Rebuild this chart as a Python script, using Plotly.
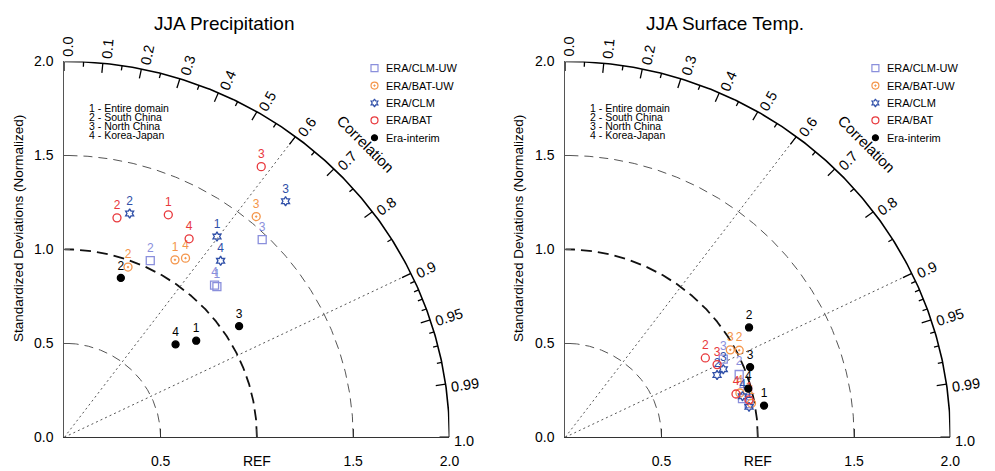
import numpy as np
import plotly.graph_objects as go

FONT = "Liberation Sans, Arial, Helvetica, sans-serif"
W, H = 995, 471

titles = ["JJA Precipitation", "JJA Surface Temp."]
series_names = ["ERA/CLM-UW", "ERA/BAT-UW", "ERA/CLM", "ERA/BAT", "Era-interim"]
region_ids = ["1", "2", "3", "4"]
region_labels = ["1 - Entire domain", "2 - South China", "3 - North China", "4 - Korea-Japan"]

# ---- JJA Precipitation: normalized std and correlation for regions 1..4
pr_clmuw_std = [1.127, 1.040, 1.470, 1.124]
pr_clmuw_cor = [0.703, 0.429, 0.699, 0.694]
pr_batuw_std = [1.105, 0.964, 1.540, 1.142]
pr_batuw_cor = [0.520, 0.343, 0.647, 0.551]
pr_clm_std = [1.330, 1.238, 1.702, 1.241]
pr_clm_cor = [0.596, 0.274, 0.675, 0.654]
pr_bat_std = [1.301, 1.199, 1.766, 1.239]
pr_bat_cor = [0.415, 0.228, 0.579, 0.523]
pr_era_std = [0.856, 0.897, 1.083, 0.760]
pr_era_cor = [0.800, 0.327, 0.838, 0.760]

# ---- JJA Surface Temp.
ts_clmuw_std = [0.971, 0.963, 0.920, 0.943]
ts_clmuw_cor = [0.983, 0.938, 0.892, 0.976]
ts_batuw_std = [0.984, 1.015, 0.975, 0.937]
ts_batuw_cor = [0.983, 0.890, 0.879, 0.968]
ts_clm_std = [0.968, 0.855, 0.897, 0.946]
ts_clm_cor = [0.986, 0.922, 0.915, 0.973]
ts_bat_std = [0.975, 0.841, 0.878, 0.916]
ts_bat_cor = [0.979, 0.865, 0.898, 0.968]
ts_era_std = [1.046, 1.119, 1.030, 0.985]
ts_era_cor = [0.987, 0.853, 0.932, 0.965]

corr_major = [0.0, 0.1, 0.2, 0.3, 0.4, 0.5, 0.6, 0.7, 0.8, 0.9, 0.95, 0.99, 1.0]
corr_major_text = ["0.0", "0.1", "0.2", "0.3", "0.4", "0.5", "0.6", "0.7", "0.8", "0.9", "0.95", "0.99", "1.0"]
corr_minor = [0.05, 0.15, 0.25, 0.35, 0.45, 0.55, 0.65, 0.75, 0.85, 0.91, 0.92, 0.93, 0.94, 0.96, 0.97, 0.98]
std_circles = [0.5, 1.0, 1.5]
corr_rays = [0.6, 0.9]
std_tickvals = [0.0, 0.5, 1.0, 1.5, 2.0]
std_ticktext = ["0.0", "0.5", "1.0", "1.5", "2.0"]
x_tickvals = [0.5, 1.0, 1.5, 2.0]
x_ticktext = ["0.5", "REF", "1.5", "2.0"]

panels = [
    [(pr_clmuw_std, pr_clmuw_cor), (pr_batuw_std, pr_batuw_cor), (pr_clm_std, pr_clm_cor),
     (pr_bat_std, pr_bat_cor), (pr_era_std, pr_era_cor)],
    [(ts_clmuw_std, ts_clmuw_cor), (ts_batuw_std, ts_batuw_cor), (ts_clm_std, ts_clm_cor),
     (ts_bat_std, ts_bat_cor), (ts_era_std, ts_era_cor)],
]

colors = ["#8a8fdc", "#f4954a", "#2f4fa8", "#e8383c", "#000000"]
symbols = ["square-open", "circle-open-dot", "hexagram-open", "circle-open", "circle"]
msizes = [8, 8, 7, 8, 7]

# ---- geometry (pixels)
SCALE = 194.5
ORIG_X = [65.0, 571.0]
ORIG_Y = 444.3
RMAX = 2.0


def p(v):
    return v / SCALE


fig = go.Figure()
annotations = []
layout_axes = {}

for k in range(2):
    xa = "x" if k == 0 else "x2"
    ya = "y" if k == 0 else "y2"
    x0 = ORIG_X[k]

    def to_paper(dx, dy):
        return (x0 + dx * SCALE) / W, 1 - (ORIG_Y - dy * SCALE) / H

    layout_axes["xaxis" if k == 0 else "xaxis2"] = dict(
        domain=[x0 / W, (x0 + RMAX * SCALE) / W], range=[0, RMAX],
        anchor=ya, showgrid=False, zeroline=False, showline=True,
        linecolor="#333", linewidth=1, ticks="inside", ticklen=8, tickcolor="#333",
        tickvals=x_tickvals, ticktext=x_ticktext, ticklabelstandoff=11,
        tickfont=dict(size=14, color="#000", family=FONT), fixedrange=True)
    layout_axes["yaxis" if k == 0 else "yaxis2"] = dict(
        domain=[(H - ORIG_Y) / H, (H - ORIG_Y + RMAX * SCALE) / H], range=[0, RMAX],
        anchor=xa, showgrid=False, zeroline=False, showline=True,
        linecolor="#555", linewidth=1, ticks="inside", ticklen=6, tickcolor="#555",
        tickvals=std_tickvals, ticktext=std_ticktext, ticklabelstandoff=7,
        tickfont=dict(size=14, color="#000", family=FONT), fixedrange=True)

    th = np.linspace(0, np.pi / 2, 240)
    # std circles
    for r in std_circles:
        ref = (r == 1.0)
        fig.add_trace(go.Scatter(
            x=r * np.cos(th), y=r * np.sin(th), mode="lines", xaxis=xa, yaxis=ya,
            line=dict(color="#111" if ref else "#555", width=1.8 if ref else 1,
                      dash="11px,6px" if ref else "9px,6px"),
            hoverinfo="skip", showlegend=False))
    # correlation rays
    for c in corr_rays:
        s = np.sqrt(1 - c * c)
        fig.add_trace(go.Scatter(
            x=[0, RMAX * c], y=[0, RMAX * s], mode="lines", xaxis=xa, yaxis=ya,
            line=dict(color="#555", width=1, dash="2px,3px"),
            hoverinfo="skip", showlegend=False))
    # outer arc
    fig.add_trace(go.Scatter(
        x=RMAX * np.cos(th), y=RMAX * np.sin(th), mode="lines", xaxis=xa, yaxis=ya,
        line=dict(color="#000", width=1.6), hoverinfo="skip", showlegend=False))
    # tick marks on arc
    tx, ty = [], []
    for c, ln in [(c, 10) for c in corr_major] + [(c, 5) for c in corr_minor]:
        a = np.arccos(c)
        r1 = RMAX - p(ln)
        tx += [RMAX * np.cos(a), r1 * np.cos(a), None]
        ty += [RMAX * np.sin(a), r1 * np.sin(a), None]
    fig.add_trace(go.Scatter(x=tx, y=ty, mode="lines", xaxis=xa, yaxis=ya,
                             line=dict(color="#000", width=1.3),
                             hoverinfo="skip", showlegend=False))
    # correlation labels (paper coords so they are never hidden outside the axis range)
    for c, t in zip(corr_major, corr_major_text):
        a = np.arccos(c)
        w = ((len(t) - 1) * 7.8 + 3.9) * 14.5 / 14
        ro = p(5 + w / 2)
        po = p(3.5)
        cx = (RMAX + ro) * np.cos(a) + po * np.sin(a)
        cy = (RMAX + ro) * np.sin(a) - po * np.cos(a)
        qx, qy = to_paper(cx, cy)
        annotations.append(dict(x=qx, y=qy, xref="paper", yref="paper", text=t, showarrow=False,
                                textangle=-np.degrees(a), xanchor="center", yanchor="middle",
                                font=dict(size=14.5, color="#000", family=FONT)))
    qx, qy = to_paper(2.21 * np.cos(np.pi / 4), 2.21 * np.sin(np.pi / 4))
    annotations.append(dict(x=qx, y=qy, xref="paper", yref="paper", text="Correlation",
                            showarrow=False, textangle=45, xanchor="center", yanchor="middle",
                            font=dict(size=15, color="#000", family=FONT)))
    # data points
    for i, (stds, cors) in enumerate(panels[k]):
        stds = np.array(stds)
        cors = np.array(cors)
        fig.add_trace(go.Scatter(
            x=stds * cors, y=stds * np.sqrt(1 - cors ** 2), mode="markers+text",
            xaxis=xa, yaxis=ya, text=region_ids, textposition="top center",
            textfont=dict(size=12, color=colors[i], family=FONT),
            marker=dict(symbol=symbols[i], size=msizes[i], color=colors[i],
                        line=dict(width=1.3, color=colors[i])),
            cliponaxis=False, name=series_names[i], showlegend=False))
    # legend (manual)
    lx = p(378.3 - 65)
    ly0 = p(ORIG_Y - 62.3)
    for i, nm in enumerate(series_names):
        yy = ly0 - i * p(18)
        fig.add_trace(go.Scatter(
            x=[lx], y=[yy], mode="markers", xaxis=xa, yaxis=ya,
            marker=dict(symbol=symbols[i], size=msizes[i] - 1, color=colors[i],
                        line=dict(width=1.2, color=colors[i])),
            cliponaxis=False, hoverinfo="skip", showlegend=False))
        qx, qy = to_paper(lx + p(10), yy)
        annotations.append(dict(x=qx, y=qy, xref="paper", yref="paper", text=nm,
                                showarrow=False, xanchor="left", yanchor="middle",
                                font=dict(size=11, color="#000", family=FONT)))
    # region list
    for j, t in enumerate(region_labels):
        annotations.append(dict(x=(x0 + 23) / W, y=1 - (104 + 9 * j) / H, xref="paper", yref="paper",
                                text=t, showarrow=False, xanchor="left", yanchor="middle",
                                font=dict(size=10.5, color="#000", family=FONT)))
    # y-axis title
    annotations.append(dict(x=(x0 - 47) / W, y=1 - 228 / H, xref="paper", yref="paper",
                            text="Standardized Deviations (Normalized)", showarrow=False,
                            textangle=-90, xanchor="center", yanchor="middle",
                            font=dict(size=13.5, color="#000", family=FONT)))
    # panel title
    annotations.append(dict(x=(x0 + 161) / W, y=1 - 16 / H, xref="paper", yref="paper",
                            text=titles[k], showarrow=False, xanchor="center", yanchor="middle",
                            font=dict(size=19, color="#000", family=FONT)))

fig.update_layout(
    width=W, height=H, margin=dict(l=0, r=0, t=0, b=0),
    paper_bgcolor="white", plot_bgcolor="white",
    font=dict(family=FONT, color="#000"),
    showlegend=False, annotations=annotations, **layout_axes)

fig.write_html(
    "out.html",
    config={"displayModeBar": False, "staticPlot": True},
    post_script=(
        "document.documentElement.style.margin='0';"
        "document.body.style.margin='0';document.body.style.padding='0';"
        "document.documentElement.style.overflow='hidden';"
        "var gd=document.getElementById('{plot_id}');"
        "gd.style.position='fixed';gd.style.left='0px';gd.style.top='0px';"
    ),
)
